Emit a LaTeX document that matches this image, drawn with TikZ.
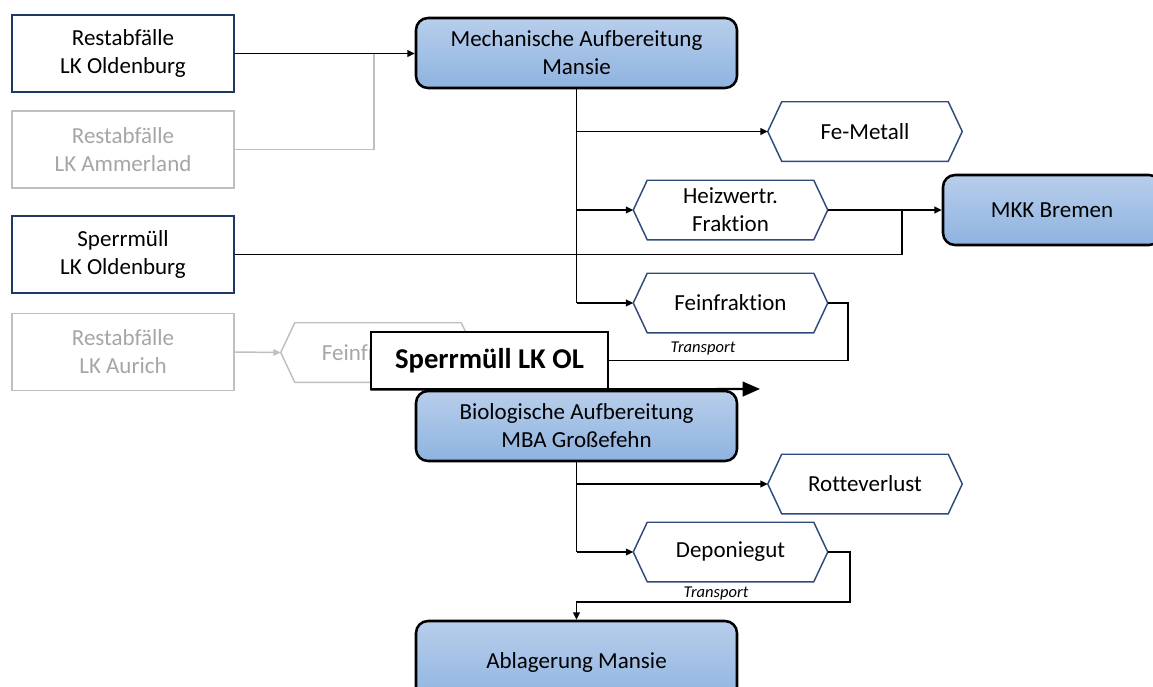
\documentclass[tikz,border=0pt]{standalone}
\usepackage{fontspec}
\setmainfont{Carlito}[Ligatures={NoCommon,NoContextual}, Contextuals=NoAlternate]
\usetikzlibrary{arrows.meta,calc}

\definecolor{boxnavy}{HTML}{1F3864}
\definecolor{hexnavy}{HTML}{2F4B7C}
\definecolor{fadeline}{HTML}{BFBFBF}
\definecolor{fadetext}{HTML}{A6A6A6}
\definecolor{blueTop}{HTML}{B8CEEB}
\definecolor{blueBot}{HTML}{8EB3E0}

\tikzset{
  base/.style={font=\fontsize{17.25}{21}\selectfont, align=center, inner sep=0pt},
  src/.style={base, draw=boxnavy, line width=1.1pt, fill=white,
              minimum width=166.5pt, minimum height=57.75pt},
  srcfade/.style={src, draw=fadeline, text=fadetext},
  plant/.style={base, draw=black, line width=1.9pt, rounded corners=9pt,
                top color=blueTop, bottom color=blueBot,
                minimum width=240.75pt, minimum height=52.5pt},
  hexa/.style={base, minimum width=145.5pt, minimum height=44.25pt},
  hexafade/.style={hexa, text=fadetext},
  conn/.style={line width=1.1pt, draw=black},
  fadeconn/.style={line width=1.1pt, draw=fadeline},
  tip/.style={-{Triangle[length=5.5pt,width=5pt]}},
  tag/.style={font=\fontsize{12.4}{14}\selectfont\itshape, inner sep=0pt},
  callout/.style={draw=black, line width=0.8pt, fill=white, inner sep=0pt,
                  font=\fontsize{21.5}{24}\selectfont\bfseries,
                  minimum width=177.75pt, minimum height=42.75pt},
  bigarrow/.style={line width=1.6pt, -{Triangle[length=13pt,width=11pt]}},
}

% hexagonal outline around a (borderless) hexa node
\newcommand\hexframe[2]{%
  \draw[#2, line width=1.1pt, line join=miter]
    (#1.west) -- ([xshift=10.5pt]#1.north west) -- ([xshift=-10.5pt]#1.north east)
    -- (#1.east) -- ([xshift=-10.5pt]#1.south east) -- ([xshift=10.5pt]#1.south west)
    -- cycle;}

\begin{document}
\begin{tikzpicture}[x=0.75pt,y=-0.75pt]
\useasboundingbox (0,0) rectangle (1153,686);
\clip (0,0) rectangle (1153,686);

% sources
\node[src]     (ro) at (123,53.5)  {Restabfälle\\LK Oldenburg};
\node[srcfade] (ra) at (123,149.5) {Restabfälle\\LK Ammerland};
\node[src]     (so) at (123,254.5) {Sperrmüll\\LK Oldenburg};
\node[srcfade] (au) at (123,352)   {Restabfälle\\LK Aurich};

% plants
\node[plant] (mech) at (576.5,53)  {Mechanische Aufbereitung\\Mansie};
\node[plant] (bio)  at (576.5,426) {Biologische Aufbereitung\\MBA Großefehn};
\node[plant, minimum height=61.5pt] (abl) at (576.5,662) {Ablagerung Mansie};
\node[plant, minimum width=163.5pt] (mkk) at (1052,210) {MKK Bremen};

% material fractions
\node[hexa] (fe)    at (865,131.5) {Fe-Metall};
\node[hexa] (heiz)  at (730.5,210) {Heizwertr.\\Fraktion};
\node[hexa] (fein)  at (730.5,303) {Feinfraktion};
\node[hexa] (rotte) at (865,484)   {Rotteverlust};
\node[hexa] (dep)   at (730.5,552) {Deponiegut};
\node[hexafade] (gfein) at (378,352.5) {Feinfraktion};
\hexframe{fe}{hexnavy}
\hexframe{heiz}{hexnavy}
\hexframe{fein}{hexnavy}
\hexframe{rotte}{hexnavy}
\hexframe{dep}{hexnavy}
\hexframe{gfein}{fadeline}

% joints
\coordinate (j1) at (374,53.5);
\coordinate (j2) at (902,210);
\coordinate (t2) at (850,602);
\coordinate (arrowend) at (760,389);

% inputs
\draw[conn, tip] (ro.east) -- (ro.east -| mech.west);
\draw[fadeconn] (ra.east) -| (j1);
\draw[conn] (so.east) -| (j2);
\draw[fadeconn, tip] (au.east) -- (gfein.west);

% mechanical treatment outputs
\draw[conn] (mech.south) -- (mech.south |- fein.west);
\draw[conn, tip] (mech.south |- fe.west) -- (fe.west);
\draw[conn, tip] (mech.south |- heiz.west) -- (heiz.west);
\draw[conn, tip] (mech.south |- fein.west) -- (fein.west);
\draw[conn, tip] (heiz.east) -- (mkk.west);

% biological treatment outputs
\draw[conn] (bio.south) -- (bio.south |- dep.west);
\draw[conn, tip] (bio.south |- rotte.west) -- (rotte.west);
\draw[conn, tip] (bio.south |- dep.west) -- (dep.west);
\draw[conn, tip] (dep.east) -| (t2) -| (abl.north);
\node[tag] (tr2) at (716,594) {Transport};

% bulky waste callout
\node[callout] (lkol) at (489.5,360.5) {Sperrmüll LK OL};
\draw[conn] (fein.east) -- ++(20,0) |- (lkol.east);
\node[tag] (tr1) at (703,349) {Transport};
\draw[bigarrow] (lkol.south west) -- (arrowend);
\end{tikzpicture}
\end{document}
